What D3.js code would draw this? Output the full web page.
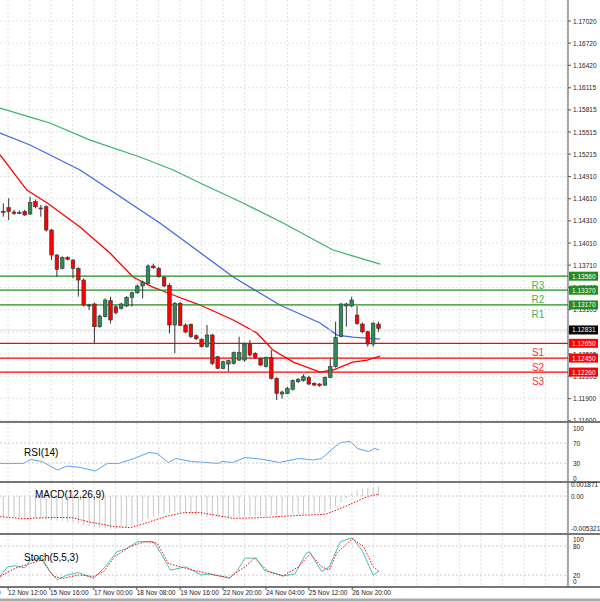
<!DOCTYPE html>
<meta charset="utf-8">
<script src="https://d3js.org/d3.v7.min.js"></script>
<style>
  body { margin: 0; background: #fff; }
  text { font-family: "Liberation Sans", Arial, sans-serif; }
</style>
<div id="chart"></div>
<script>
  // candles (4H), oldest first
  var open  = [1.14440,1.14489,1.14430,1.14420,1.14435,1.14403,1.14570,1.14485,1.14502,1.14186,1.13847,1.13666,1.13815,1.13779,1.13666,1.13508,1.13169,1.13183,1.12875,1.13011,1.13228,1.13146,1.13124,1.13156,1.13273,1.13336,1.13427,1.13463,1.13698,1.13666,1.13544,1.13436,1.12898,1.13192,1.12898,1.12907,1.12753,1.12703,1.12604,1.12762,1.12468,1.12310,1.12369,1.12378,1.12423,1.12423,1.12640,1.12514,1.12446,1.12333,1.12455,1.12175,1.11962,1.11971,1.12026,1.12129,1.12143,1.12188,1.12107,1.12098,1.12084,1.12188,1.12333,1.12740,1.13156,1.13156,1.13033,1.12911,1.12807,1.12640,1.12911];
  var high  = [1.14548,1.14615,1.14460,1.14450,1.14460,1.14638,1.14600,1.14525,1.14520,1.14200,1.13860,1.13830,1.13830,1.13790,1.13680,1.13530,1.13185,1.13200,1.13040,1.13260,1.13280,1.13170,1.13200,1.13290,1.13350,1.13445,1.13500,1.13720,1.13730,1.13690,1.13560,1.13463,1.13210,1.13210,1.12920,1.12920,1.12770,1.12720,1.12898,1.12780,1.12480,1.12414,1.12430,1.12540,1.12740,1.12660,1.12694,1.12530,1.12460,1.12470,1.12559,1.12190,1.12010,1.12060,1.12160,1.12180,1.12230,1.12210,1.12120,1.12110,1.12200,1.12446,1.12943,1.13200,1.13200,1.13282,1.13156,1.12930,1.12820,1.12943,1.12943];
  var low   = [1.14367,1.14322,1.14390,1.14400,1.14380,1.14389,1.14480,1.14367,1.14163,1.13779,1.13553,1.13650,1.13775,1.13531,1.13282,1.13150,1.13101,1.12649,1.12860,1.13000,1.12920,1.13040,1.13110,1.13140,1.13146,1.13320,1.13259,1.13450,1.13660,1.13540,1.13410,1.12785,1.12514,1.12880,1.12785,1.12720,1.12694,1.12590,1.12590,1.12355,1.12300,1.12300,1.12265,1.12360,1.12410,1.12400,1.12470,1.12440,1.12340,1.12320,1.12160,1.11881,1.11900,1.11960,1.12010,1.12110,1.12130,1.12084,1.12070,1.12062,1.12070,1.12175,1.12320,1.12730,1.12875,1.13140,1.12900,1.12785,1.12604,1.12604,1.12807];
  var close = [1.14435,1.14435,1.14412,1.14425,1.14389,1.14557,1.14502,1.14480,1.14186,1.13847,1.13653,1.13815,1.13788,1.13666,1.13508,1.13169,1.13156,1.12875,1.13020,1.13237,1.12966,1.13065,1.13183,1.13273,1.13336,1.13427,1.13481,1.13698,1.13675,1.13553,1.13427,1.12898,1.13192,1.12893,1.12803,1.12740,1.12712,1.12604,1.12762,1.12378,1.12310,1.12400,1.12414,1.12523,1.12523,1.12640,1.12491,1.12455,1.12355,1.12455,1.12175,1.11971,1.11989,1.12035,1.12143,1.12161,1.12197,1.12098,1.12084,1.12080,1.12188,1.12333,1.12730,1.13183,1.13183,1.13237,1.12920,1.12807,1.12640,1.12920,1.12853];

  // moving averages: [candle index, price]
  var maFast = [[-0.6,1.15203],[4.4,1.14728],[8.2,1.14552],[14.3,1.14227],[19.9,1.13874],[24.2,1.13549],[27.9,1.13413],[31.7,1.13305],[36.7,1.13169],[42.9,1.12966],[47.3,1.12789],[50.3,1.12559],[54.1,1.12396],[59.1,1.12260],[61.5,1.12288],[65.2,1.12396],[67.9,1.12423],[70.3,1.12477]];
  var maMid = [[-0.6,1.15501],[5.0,1.15339],[10.6,1.15135],[14.3,1.15000],[18.0,1.14823],[29.2,1.14281],[34.3,1.14010],[42.9,1.13549],[51.6,1.13169],[59.1,1.12925],[62.3,1.12762],[65.2,1.12735],[70.3,1.12708]];
  var maSlow = [[-0.6,1.15840],[5.0,1.15718],[8.7,1.15637],[16.2,1.15406],[25.5,1.15176],[31.7,1.15000],[36.7,1.14823],[44.7,1.14552],[52.2,1.14281],[61.5,1.13915],[70.3,1.13725]];

  var levels = [
    { name: "R3", value: 1.13560, color: "#1f8f1f" },
    { name: "R2", value: 1.13370, color: "#1f8f1f" },
    { name: "R1", value: 1.13170, color: "#1f8f1f" },
    { name: "S1", value: 1.12650, color: "#ff0000" },
    { name: "S2", value: 1.12450, color: "#ff0000" },
    { name: "S3", value: 1.12260, color: "#ff0000" }
  ];
  var lastPrice = 1.12831;

  var priceTicks = [1.17020,1.16720,1.16420,1.16115,1.15815,1.15515,1.15215,1.14910,1.14610,1.14310,1.14010,1.13710,1.13405,1.13105,1.12805,1.12505,1.12205,1.11900,1.11600];
  var timeLabels = ["12 Nov 12:00","15 Nov 16:00","17 Nov 00:00","18 Nov 08:00","19 Nov 16:00","22 Nov 20:00","24 Nov 04:00","25 Nov 12:00","26 Nov 20:00"];
  var timeIdx = [0.9,8.7,16.9,24.9,33.0,41.0,49.0,57.0,65.1];

  var rsi = [[-0.6,29],[3.7,29],[5.1,37],[7.2,33],[10.1,16],[11.9,24],[14.4,21],[17.2,14],[19.4,29],[21.5,29],[24.4,39],[27.2,51],[28.7,49],[30.8,31],[32.2,39],[35.1,33],[38.0,31],[40.1,29],[40.8,33],[42.9,31],[45.1,41],[48.6,37],[51.5,31],[55.1,39],[57.9,36],[59.4,39],[61.5,59],[62.9,71],[64.7,73],[66.1,59],[68.2,53],[69.3,59],[70.1,56]];

  var macdHist = [-0.0034,-0.0035,-0.0035,-0.0035,-0.0036,-0.0036,-0.0037,-0.0038,-0.0039,-0.0040,-0.0041,-0.0042,-0.0043,-0.0044,-0.0046,-0.0048,-0.0050,-0.0052,-0.0053,-0.0054,-0.0055,-0.0055,-0.0054,-0.0052,-0.0049,-0.0045,-0.0042,-0.0038,-0.0034,-0.0031,-0.0029,-0.0028,-0.0027,-0.0028,-0.0029,-0.0031,-0.0032,-0.0034,-0.0035,-0.0036,-0.0036,-0.0036,-0.0036,-0.0035,-0.0035,-0.0034,-0.0034,-0.0033,-0.0033,-0.0033,-0.0032,-0.0032,-0.0031,-0.0031,-0.0030,-0.0030,-0.0030,-0.0029,-0.0029,-0.0028,-0.0026,-0.0022,-0.0017,-0.0010,-0.0004,0.0004,0.0009,0.0012,0.0014,0.0015,0.0016];
  var macdSignal = [[-0.6,-0.00344],[3.7,-0.00377],[9.4,-0.00355],[12.9,-0.00361],[15.8,-0.00427],[20.8,-0.00510],[23.7,-0.00527],[26.5,-0.00455],[30.1,-0.00344],[33.7,-0.00277],[36.5,-0.00272],[39.4,-0.00316],[42.9,-0.00372],[47.9,-0.00361],[52.9,-0.00333],[56.5,-0.00316],[60.1,-0.00305],[62.2,-0.00233],[65.1,-0.00122],[67.9,-0.00011],[70.1,0.00033]];

  var stochMain = [[-0.6,17],[0.8,37],[2.2,39],[4.0,35],[5.1,51],[7.2,55],[8.7,27],[10.1,10],[11.9,20],[14.0,25],[16.9,13],[19.0,37],[21.2,68],[23.0,75],[25.1,89],[28.0,89],[29.4,65],[31.2,30],[34.0,37],[36.9,20],[38.3,22],[40.8,17],[42.2,13],[43.7,30],[45.1,55],[47.2,55],[48.7,30],[52.2,18],[54.4,22],[56.5,65],[57.2,68],[59.4,27],[60.8,37],[62.9,89],[65.1,97],[66.9,72],[69.0,20],[70.1,28]];
  var stochSignal = [[-0.6,17],[2.2,34],[5.1,44],[7.2,51],[9.4,17],[11.2,13],[14.0,20],[16.9,17],[18.7,27],[20.8,58],[23.7,79],[26.5,89],[28.7,86],[30.8,44],[33.0,37],[36.5,27],[40.8,17],[42.2,15],[45.1,37],[46.9,55],[49.4,27],[52.2,18],[55.1,37],[57.2,64],[59.4,37],[60.8,30],[62.2,65],[65.1,95],[67.2,79],[69.0,37],[70.1,27]];

  var W = 600, H = 602, plotR = 568;
  var svg = d3.select("#chart").append("svg").attr("width", W).attr("height", H);

  var x = d3.scaleLinear().domain([0, 70]).range([3.3, 378.5]);
  var y = d3.scaleLinear().domain([1.17020, 1.14010]).range([21, 243]);

  var panels = [
    { top: 0, bottom: 421 },
    { top: 423, bottom: 481 },
    { top: 483, bottom: 533 },
    { top: 535, bottom: 586 }
  ];

  // grid
  var grid = svg.append("g").attr("stroke", "#d9d9d9").attr("stroke-dasharray", "2,2").attr("stroke-width", 0.8);
  var vx = d3.range(8, plotR, 21.5);
  panels.forEach(function (p) {
    grid.selectAll(null).data(vx).enter().append("line")
      .attr("x1", function (d) { return d; }).attr("x2", function (d) { return d; })
      .attr("y1", p.top).attr("y2", p.bottom);
  });
  grid.selectAll(null).data(priceTicks).enter().append("line")
    .attr("x1", 0).attr("x2", plotR)
    .attr("y1", function (d) { return y(d); }).attr("y2", function (d) { return y(d); });

  // clip
  svg.append("clipPath").attr("id", "clipMain").append("rect").attr("x", 0).attr("y", 0).attr("width", plotR).attr("height", 421);

  var main = svg.append("g").attr("clip-path", "url(#clipMain)");
  var line = d3.line().x(function (d) { return x(d[0]); }).y(function (d) { return y(d[1]); });
  main.append("path").datum(maSlow).attr("d", line).attr("fill", "none").attr("stroke", "#3cb371").attr("stroke-width", 1.3);
  main.append("path").datum(maMid).attr("d", line).attr("fill", "none").attr("stroke", "#4169e1").attr("stroke-width", 1.3);
  main.append("path").datum(maFast).attr("d", line).attr("fill", "none").attr("stroke", "#ff0000").attr("stroke-width", 1.3);

  // levels
  main.append("line").attr("x1", 0).attr("x2", plotR).attr("y1", y(lastPrice)).attr("y2", y(lastPrice)).attr("stroke", "#e0e0e0");
  main.selectAll(".lvl").data(levels).enter().append("line")
    .attr("x1", 0).attr("x2", plotR)
    .attr("y1", function (d) { return y(d.value); }).attr("y2", function (d) { return y(d.value); })
    .attr("stroke", function (d) { return d.color; }).attr("stroke-width", 1.3);
  main.selectAll(".lvlt").data(levels).enter().append("text")
    .attr("x", 538).attr("y", function (d) { return y(d.value) + 13; })
    .attr("text-anchor", "middle").attr("font-size", 10)
    .attr("fill", function (d) { return d.name[0] === "R" ? "#4caf50" : "#ff3030"; })
    .text(function (d) { return d.name; });

  // candles
  var idx = d3.range(open.length);
  var c = main.append("g");
  c.selectAll(".wick").data(idx).enter().append("line")
    .attr("x1", function (i) { return x(i); }).attr("x2", function (i) { return x(i); })
    .attr("y1", function (i) { return y(high[i]); }).attr("y2", function (i) { return y(low[i]); })
    .attr("stroke", "#333").attr("stroke-width", 1);
  c.selectAll(".body").data(idx).enter().append("rect")
    .attr("x", function (i) { return x(i) - 1.8; }).attr("width", 3.6)
    .attr("y", function (i) { return y(Math.max(open[i], close[i])); })
    .attr("height", function (i) { return Math.max(1, Math.abs(y(open[i]) - y(close[i]))); })
    .attr("fill", function (i) { return close[i] >= open[i] ? "#2e8b57" : "#ff0000"; })
    .attr("stroke", "#333").attr("stroke-width", 0.6);

  // right axis
  svg.append("line").attr("x1", plotR).attr("x2", plotR).attr("y1", 0).attr("y2", 586).attr("stroke", "#555");
  svg.selectAll(".pt").data(priceTicks).enter().append("text")
    .attr("x", 573).attr("y", function (d) { return y(d) + 2.5; })
    .attr("font-size", 6.5).attr("fill", "#222")
    .text(function (d) { return d.toFixed(5); });
  svg.selectAll(".ptk").data(priceTicks).enter().append("line")
    .attr("x1", plotR).attr("x2", plotR + 3)
    .attr("y1", function (d) { return y(d); }).attr("y2", function (d) { return y(d); }).attr("stroke", "#555");

  var boxes = levels.concat([{ value: lastPrice, color: "#000" }]);
  var bg = svg.selectAll(".box").data(boxes).enter().append("g")
    .attr("transform", function (d) { return "translate(" + (plotR + 1) + "," + (y(d.value) - 4.5) + ")"; });
  bg.append("rect").attr("width", 29).attr("height", 9).attr("fill", function (d) { return d.color; });
  bg.append("text").attr("x", 3).attr("y", 7).attr("font-size", 6.5).attr("fill", "#fff")
    .text(function (d) { return d.value.toFixed(5); });

  // panel separators
  [421, 481, 533, 586].forEach(function (yy) {
    svg.append("line").attr("x1", 0).attr("x2", W).attr("y1", yy + 1).attr("y2", yy + 1).attr("stroke", "#777").attr("stroke-width", 2);
  });

  // RSI
  var yr = d3.scaleLinear().domain([0, 100]).range([478, 428]);
  svg.append("path").datum(rsi).attr("fill", "none").attr("stroke", "#5aa0ee").attr("stroke-width", 1)
    .attr("d", d3.line().x(function (d) { return x(d[0]); }).y(function (d) { return yr(d[1]); }));
  [0, 30, 70, 100].forEach(function (v) {
    if (v === 30 || v === 70) svg.append("line").attr("x1", 0).attr("x2", plotR).attr("y1", yr(v)).attr("y2", yr(v)).attr("stroke", "#ccc").attr("stroke-dasharray", "2,2");
    svg.append("text").attr("x", 573).attr("y", yr(v) + 2.5).attr("font-size", 6.5).attr("fill", "#222").text(v);
  });
  svg.append("text").attr("x", 24).attr("y", 456).attr("font-size", 10).text("RSI(14)");

  // MACD
  var ym = d3.scaleLinear().domain([0, -0.005321]).range([496, 528]);
  svg.selectAll(".mh").data(idx).enter().append("line")
    .attr("x1", function (i) { return x(i); }).attr("x2", function (i) { return x(i); })
    .attr("y1", ym(0)).attr("y2", function (i) { return ym(macdHist[i]); })
    .attr("stroke", "#c8c8c8").attr("stroke-width", 1);
  svg.append("path").datum(macdSignal).attr("fill", "none").attr("stroke", "#ff0000").attr("stroke-width", 1).attr("stroke-dasharray", "1.5,1.5")
    .attr("d", d3.line().x(function (d) { return x(d[0]); }).y(function (d) { return ym(d[1]); }));
  svg.append("line").attr("x1", 0).attr("x2", plotR).attr("y1", ym(0)).attr("y2", ym(0)).attr("stroke", "#ccc").attr("stroke-dasharray", "2,2");
  [[0.001871, "0.001871"], [0, "0.00"], [-0.005321, "-0.005321"]].forEach(function (t) {
    svg.append("text").attr("x", 571).attr("y", ym(t[0]) + 2.5).attr("font-size", 6.5).attr("fill", "#222").text(t[1]);
  });
  svg.append("text").attr("x", 35).attr("y", 498).attr("font-size", 10).text("MACD(12,26,9)");

  // Stochastic
  var ys = d3.scaleLinear().domain([20, 80]).range([575, 546]);
  [20, 80].forEach(function (v) {
    svg.append("line").attr("x1", 0).attr("x2", plotR).attr("y1", ys(v)).attr("y2", ys(v)).attr("stroke", "#ccc").attr("stroke-dasharray", "2,2");
  });
  svg.append("path").datum(stochMain).attr("fill", "none").attr("stroke", "#48c0b0").attr("stroke-width", 1)
    .attr("d", d3.line().x(function (d) { return x(d[0]); }).y(function (d) { return ys(d[1]); }));
  svg.append("path").datum(stochSignal).attr("fill", "none").attr("stroke", "#ff0000").attr("stroke-width", 1).attr("stroke-dasharray", "1.5,1.5")
    .attr("d", d3.line().x(function (d) { return x(d[0]); }).y(function (d) { return ys(d[1]); }));
  [[100, 539.5], [80, 546.5], [20, 575.5], [0, 581]].forEach(function (t) {
    svg.append("text").attr("x", 573).attr("y", t[1] + 2.5).attr("font-size", 6.5).attr("fill", "#222").text(t[0]);
  });
  svg.append("text").attr("x", 24).attr("y", 561).attr("font-size", 10).text("Stoch(5,5,3)");

  // time axis
  svg.append("text").attr("x", -3).attr("y", 595).attr("font-size", 6.5).text("0");
  svg.selectAll(".tl").data(timeLabels).enter().append("text")
    .attr("x", function (d, i) { return x(timeIdx[i]); }).attr("y", 595)
    .attr("font-size", 6.5).attr("fill", "#222").text(function (d) { return d; });
  svg.selectAll(".tk").data(timeIdx).enter().append("line")
    .attr("x1", function (d) { return x(d); }).attr("x2", function (d) { return x(d); })
    .attr("y1", 587).attr("y2", 590).attr("stroke", "#555");
  svg.append("line").attr("x1", 0).attr("x2", W).attr("y1", 600).attr("y2", 600).attr("stroke", "#aaa").attr("stroke-width", 3);
</script>
